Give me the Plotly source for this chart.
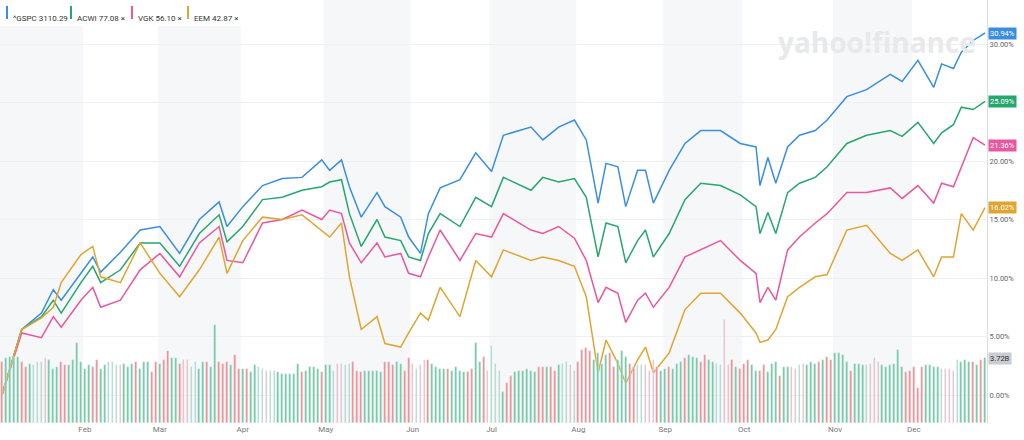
import pandas as pd
import plotly.graph_objects as go

# trading calendar 2019 (NYSE), Jan 2 .. Dec 27
holidays = ["2019-01-21", "2019-02-18", "2019-04-19", "2019-05-27",
            "2019-07-04", "2019-09-02", "2019-11-28", "2019-12-25"]
days = pd.bdate_range("2019-01-02", "2019-12-27")
days = days[~days.isin(pd.to_datetime(holidays))]

# sampled trading-day index and % change since start
sample_day = [0, 5, 10, 13, 15, 20, 23, 25, 30, 35, 40, 45, 50, 55, 57, 61, 66, 71, 76, 81,
              83, 86, 88, 91, 95, 97, 101, 103, 106, 108, 111, 116, 120, 124, 127, 134, 137,
              141, 145, 148, 151, 153, 156, 158, 161, 163, 165, 169, 173, 177, 182, 187, 191,
              192, 194, 196, 199, 202, 206, 209, 214, 219, 225, 228, 232, 236, 238, 241, 243,
              246, 249]
gspc = [0, 5.6, 7.0, 9.0, 8.1, 10.4, 11.8, 10.5, 12.2, 14.1, 14.4, 12.1, 15.0, 16.5, 14.4, 16.1,
        17.9, 18.5, 18.6, 20.1, 19.2, 20.1, 17.8, 15.2, 17.3, 16.1, 15.2, 13.5, 12.1, 15.5, 17.7,
        18.4, 20.7, 19.1, 22.2, 22.9, 21.8, 22.9, 23.5, 21.8, 16.4, 19.8, 19.5, 16.1, 19.2, 19.2,
        16.4, 19.2, 21.5, 22.6, 22.6, 21.5, 21.2, 17.9, 20.3, 18.1, 21.2, 22.2, 22.6, 23.5, 25.5,
        26.1, 27.4, 26.8, 28.6, 26.3, 28.3, 27.9, 29.3, 30.3, 30.94]
acwi = [0, 5.6, 6.7, 8.1, 7.0, 9.6, 11.0, 9.6, 10.7, 13.0, 13.0, 11.0, 13.8, 15.4, 13.1, 14.4,
        16.7, 16.9, 17.5, 17.8, 18.2, 18.4, 15.5, 12.7, 15.0, 13.5, 13.2, 11.8, 11.5, 13.8, 15.5,
        14.4, 16.9, 16.1, 18.6, 17.5, 18.6, 18.2, 18.5, 16.9, 11.8, 14.7, 14.4, 11.3, 13.2, 14.1,
        11.8, 13.8, 16.7, 18.1, 17.9, 17.1, 16.1, 13.8, 15.6, 13.8, 17.3, 18.1, 18.6, 19.5, 21.5,
        22.2, 22.6, 22.1, 23.3, 21.5, 22.4, 23.1, 24.6, 24.4, 25.09]
vgk = [0, 5.3, 4.9, 6.7, 5.8, 8.1, 9.2, 7.5, 8.1, 10.7, 12.1, 10.1, 13.0, 14.4, 11.5, 11.3,
       14.7, 15.0, 15.8, 15.0, 15.8, 15.5, 13.0, 11.3, 13.0, 11.8, 12.1, 10.4, 10.1, 11.8, 14.1,
       11.5, 13.8, 13.5, 15.5, 14.1, 13.8, 14.4, 13.4, 11.5, 7.9, 9.2, 8.7, 6.2, 8.1, 8.7,
       7.5, 9.2, 11.8, 12.4, 13.2, 11.5, 10.4, 7.9, 9.2, 8.1, 12.4, 13.5, 14.7, 15.5, 17.3,
       17.3, 17.7, 16.8, 17.9, 16.4, 18.1, 17.8, 19.5, 22.0, 21.36]
eem = [0, 5.6, 6.6, 7.5, 9.6, 12.0, 12.7, 10.1, 9.6, 13.0, 10.4, 8.4, 10.7, 13.5, 10.4, 13.2,
       15.2, 15.0, 15.4, 14.1, 13.5, 14.7, 10.1, 5.6, 6.7, 4.4, 4.1, 5.3, 7.0, 6.4, 9.2,
       6.7, 11.5, 10.1, 12.4, 11.5, 11.8, 11.5, 11.0, 8.4, 1.9, 4.7, 2.7, 1.0, 3.0, 4.1,
       1.9, 3.6, 7.3, 8.7, 8.7, 7.0, 5.3, 4.5, 4.7, 5.6, 8.4, 9.2, 10.1, 10.3, 14.1,
       14.5, 12.1, 11.5, 12.4, 10.1, 11.8, 11.8, 15.5, 14.1, 16.02]

# ^GSPC daily volume (billions), up/down day
volume = [3.5, 3.7, 3.8, 3.8, 3.8, 3.5, 3.2, 3.4, 3.3, 3.5, 3.5, 3.7, 3.6, 3.1, 3.2, 3.5, 3.3, 3.3, 3.6, 4.6, 3.5,
          3.1, 3.3, 3.2, 3.6, 3.1, 3.3, 3.5, 3.5, 3.3, 3.3, 3.4, 3.2, 3.4, 3.5, 3.1, 3.5, 3.5, 2.9, 3.5,
          3.4, 3.6, 4.1, 3.7, 3.7, 3.4, 3.6, 3.6, 3.2, 3.5, 3.1, 3.5, 3.5, 3.2, 5.6, 3.5, 3.4, 3.5, 3.3, 3.9, 3.1,
          3.1, 3.1, 2.9, 3.3, 3.2, 3.1, 3.0, 3.0, 3.0, 2.9, 2.8, 2.8, 2.8, 2.8, 3.4, 2.9, 3.0, 3.2, 3.2, 3.1, 2.9,
          3.3, 3.3, 3.0, 3.4, 3.4, 3.3, 3.4, 3.5, 3.0, 2.9, 3.0, 3.0, 3.0, 3.0, 2.9, 3.5, 3.5, 3.3, 3.5, 3.4, 3.0, 3.7,
          3.4, 3.1, 3.3, 3.6, 3.6, 3.4, 3.2, 3.1, 3.1, 3.1, 3.0, 3.2, 3.0, 2.9, 2.9, 3.1, 4.6, 3.5, 3.8, 3.0,
          4.4, 3.4, 3.0, 1.8, 2.3, 2.7, 2.9, 3.0, 3.0, 3.1, 3.0, 2.9, 3.2, 3.2, 3.2, 3.2, 3.0, 3.3, 3.4, 3.5, 3.3, 3.0,
          3.5, 4.2, 4.3, 4.1, 3.6, 4.0, 3.4, 3.9, 4.0, 3.2, 3.6, 4.1, 3.8, 3.4, 3.2, 3.3, 3.3, 3.3, 3.0, 3.6, 3.2, 3.0,
          3.1, 3.2, 3.1, 3.4, 3.5, 3.7, 3.9, 3.8, 3.7, 3.5, 3.9, 3.6, 3.5, 3.4, 3.3, 5.9, 3.3, 3.6, 3.2, 3.1,
          3.4, 3.6, 3.3, 3.0, 3.0, 3.3, 2.9, 3.4, 3.5, 2.7, 3.2, 3.2, 3.2, 3.1, 3.3, 3.4, 3.3, 3.5, 3.4, 3.5, 3.6, 3.8, 3.6,
          4.0, 4.0, 3.9, 3.5, 3.0, 3.4, 3.4, 3.3, 3.3, 3.4, 3.7, 3.5, 3.3, 3.2, 3.3, 3.4, 4.2, 3.2, 2.9, 3.0, 3.2,
          2.0, 3.2, 3.3, 3.3, 3.2, 3.2, 3.1, 3.1, 3.1, 3.0, 3.6, 3.5, 3.6, 3.5, 3.5, 3.3, 3.6, 3.72]
updown = ("rggggrrggggrgggrrggg" "g"
          "ggrrgggggrgggrgggrr"
          "grrggrrrggggrggrrrgrr"
          "grggggrggggggggrggggr"
          "gggrrggrrrgggggrrrggrr"
          "rgrrrggggrggggrrggrr"
          "ggggrrggggggrrgrrgggrg"
          "rrrrggggrrgggrrggrrrrg"
          "grgggrgggrrggggrrrgr"
          "rrggrrgggrggrrgrgggrgrr"
          "ggggrggggrrrggggggrrr"
          "rrgggggrrrggggrgrg")

vol_colors = ["#6cc99d" if c == "g" else "#f08a8a" for c in updown]
x_all = list(range(len(days)))

fig = go.Figure()

# month bands and ticks
month_start = [i for i in x_all if i == 0 or days[i].month != days[i - 1].month]
month_names = ["2019"] + [days[i].strftime("%b") for i in month_start[1:]]
for k in range(0, len(month_start), 2):
    x1 = month_start[k + 1] - 0.5 if k + 1 < len(month_start) else len(days) - 0.5
    fig.add_shape(type="rect", xref="x", yref="paper", x0=month_start[k] - 0.5, x1=x1,
                  y0=0, y1=1, fillcolor="#f6f7f8", line_width=0, layer="below")

fig.add_trace(go.Bar(x=x_all, y=volume, marker_color=vol_colors, width=0.45,
                     yaxis="y2", showlegend=False))

series = [("^GSPC", gspc, "#3a8ee0"), ("ACWI", acwi, "#27a66e"),
          ("VGK", vgk, "#e8579f"), ("EEM", eem, "#e0a530")]
for name, vals, col in series:
    fig.add_trace(go.Scatter(x=sample_day, y=vals, mode="lines", name=name,
                             line=dict(color=col, width=1.5), showlegend=False))

# end-of-line value tags
for name, vals, col in series:
    fig.add_annotation(x=1, xref="paper", xanchor="left", y=vals[-1], yref="y",
                       text=f"{vals[-1]:.2f}%", showarrow=False, bgcolor=col,
                       font=dict(color="white", size=7.5, family="Roboto"),
                       borderpad=1, xshift=1)
fig.add_annotation(x=1, xref="paper", xanchor="left", y=volume[-1], yref="y2",
                   text=f"{volume[-1]:.2f}B", showarrow=False, bgcolor="#c9ccd0",
                   font=dict(color="#333", size=7.5, family="Roboto"), borderpad=1, xshift=1)

# legend chips
chips = [("^GSPC 3110.29", "#3a8ee0", 3), ("ACWI 77.08 ×", "#27a66e", 67),
         ("VGK 56.10 ×", "#e8579f", 128), ("EEM 42.87 ×", "#e0a530", 184)]
fig.add_shape(type="rect", xref="paper", yref="paper", x0=0, x1=248 / 987, y0=1 - 26 / 423,
              y1=1, fillcolor="white", line_width=0)
for label, col, px in chips:
    fig.add_shape(type="rect", xref="paper", yref="paper", x0=(px + 3) / 987, x1=(px + 5) / 987,
                  y0=1 - 19 / 423, y1=1 - 6 / 423, fillcolor=col, line_width=0)
    fig.add_annotation(x=(px + 8) / 987, xref="paper", xanchor="left", y=1 - 12.5 / 423,
                       yref="paper", text=label, showarrow=False,
                       font=dict(size=8, color="#333", family="Roboto"))

fig.add_annotation(x=978 / 987, xref="paper", xanchor="right", y=1 - 21 / 423, yref="paper",
                   text="<b>yahoo!finance</b>", showarrow=False,
                   font=dict(size=28, color="#e8e9eb", family="Open Sans"))

fig.update_layout(
    width=1024, height=440, margin=dict(l=0, r=37, t=0, b=17),
    plot_bgcolor="white", paper_bgcolor="white", bargap=0,
    xaxis=dict(range=[-0.5, len(days) - 0.5], tickvals=month_start, ticktext=month_names,
               showgrid=False, zeroline=False, ticks="", automargin=False,
               tickfont=dict(size=8, color="#777", family="Roboto")),
    yaxis=dict(range=[(395 - 423) / 11.7, 395 / 11.7], side="right", tickvals=list(range(0, 31, 5)),
               ticktext=[f"{v:.2f}%" for v in range(0, 31, 5)], showgrid=True, automargin=False,
               gridcolor="#f0f0f0", zeroline=False, showline=True, linecolor="#ddd",
               tickfont=dict(size=7.5, color="#666", family="Roboto")),
    yaxis2=dict(range=[0, 3.72 * 423 / 65], overlaying="y", visible=False),
)

fig.write_html("out.html", config={"displayModeBar": False},
               post_script="document.body.style.margin='0';")
